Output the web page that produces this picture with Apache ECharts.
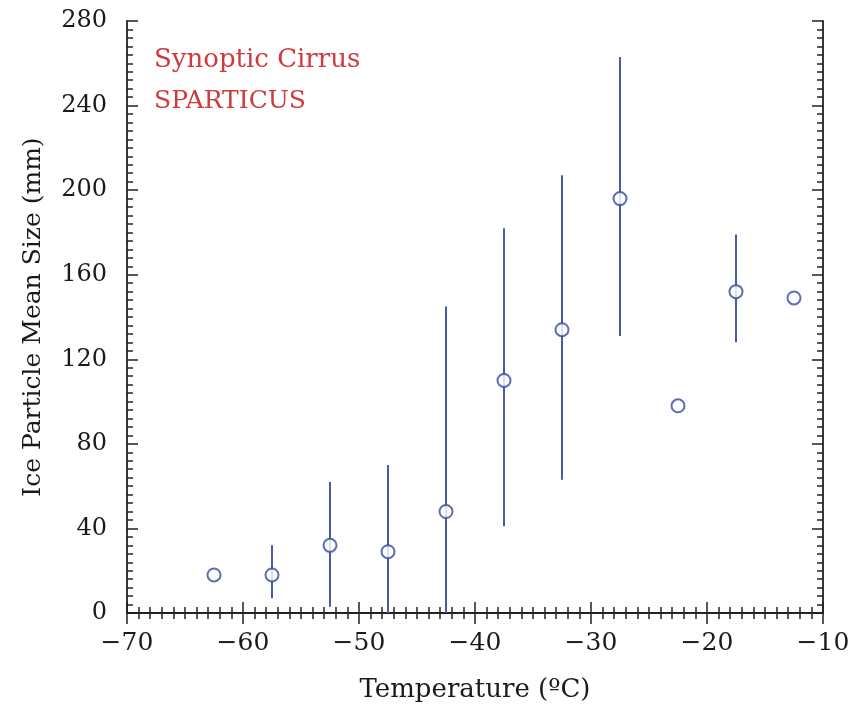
<!DOCTYPE html>
<html><head><meta charset="utf-8">
<script src="https://cdn.jsdelivr.net/npm/echarts@6/dist/echarts.min.js"></script>
<style>html,body{margin:0;padding:0;background:#fff}#c{width:866px;height:708px}</style>
</head><body><div id="c"></div>
<script>
var temps = [-62.5, -57.5, -52.5, -47.5, -42.5, -37.5, -32.5, -27.5, -22.5, -17.5, -12.5];
var meanSize = [18, 18, 32, 29, 48, 110, 134, 196, 98, 152, 149];
var errLow  = [null, 7, 3, 0, 0, 41, 63, 131, null, 128, null];
var errHigh = [null, 32, 62, 70, 145, 182, 207, 263, null, 179, null];
var annotations = ['Synoptic Cirrus', 'SPARTICUS'];

var FONT = '"DejaVu Serif", "Liberation Serif", serif';
var scatterData = temps.map(function (t, i) { return [t, meanSize[i]]; });
var errData = [];
temps.forEach(function (t, i) {
  if (errLow[i] !== null) errData.push([t, errLow[i], errHigh[i]]);
});
function minus(v) { return String(v).replace('-', '\u2212'); }

var axisLine = { show: true, lineStyle: { color: '#222', width: 1.8 } };
var xCommon = {
  type: 'value', min: -70, max: -10, interval: 10,
  axisLine: axisLine,
  axisTick: { show: true, inside: true, length: 11, lineStyle: { color: '#222', width: 1.5 } },
  minorTick: { show: true, splitNumber: 10, length: 6, lineStyle: { color: '#222', width: 1.5 } },
  splitLine: { show: false }
};
var yCommon = {
  type: 'value', min: 0, max: 280, interval: 40,
  axisLine: axisLine,
  axisTick: { show: true, inside: true, length: 11, lineStyle: { color: '#222', width: 1.5 } },
  minorTick: { show: true, splitNumber: 10, length: 6, lineStyle: { color: '#222', width: 1.5 } },
  splitLine: { show: false }
};

var chart = echarts.init(document.getElementById('c'));
chart.setOption({
  backgroundColor: '#fff',
  animation: false,
  grid: { left: 127, right: 43, top: 21, bottom: 94 },
  xAxis: [
    Object.assign({}, xCommon, {
      position: 'bottom',
      name: 'Temperature (ºC)', nameLocation: 'middle', nameGap: 64,
      nameTextStyle: { fontFamily: FONT, fontSize: 26, color: '#1a1a1a' },
      axisLabel: { margin: 18, fontFamily: FONT, fontSize: 25, color: '#1a1a1a', formatter: minus }
    }),
    Object.assign({}, xCommon, { position: 'top', axisLabel: { show: false } })
  ],
  yAxis: [
    Object.assign({}, yCommon, {
      position: 'left',
      name: 'Ice Particle Mean Size (mm)', nameLocation: 'middle', nameGap: 81,
      nameTextStyle: { fontFamily: FONT, fontSize: 25, color: '#1a1a1a' },
      axisLabel: { margin: 20, fontFamily: FONT, fontSize: 24, color: '#1a1a1a' }
    }),
    Object.assign({}, yCommon, { position: 'right', axisLabel: { show: false } })
  ],
  graphic: [
    { type: 'text', left: 154, top: 47, style: { text: annotations[0], fontFamily: FONT, fontSize: 26, fill: '#d03a3c' } },
    { type: 'text', left: 154, top: 89, style: { text: annotations[1], fontFamily: FONT, fontSize: 25, fill: '#d03a3c' } }
  ],
  series: [
    {
      type: 'custom',
      xAxisIndex: 0, yAxisIndex: 0,
      data: errData,
      clip: true,
      renderItem: function (params, api) {
        var p1 = api.coord([api.value(0), api.value(1)]);
        var p2 = api.coord([api.value(0), api.value(2)]);
        return {
          type: 'line',
          shape: { x1: p1[0], y1: p1[1], x2: p2[0], y2: p2[1] },
          style: { stroke: '#4a5aab', lineWidth: 2 }
        };
      },
      encode: { x: 0, y: [1, 2] },
      z: 2
    },
    {
      type: 'scatter',
      xAxisIndex: 0, yAxisIndex: 0,
      data: scatterData,
      symbol: 'circle',
      symbolSize: 13,
      itemStyle: { color: '#ffffff', borderColor: '#35489c', borderWidth: 2 },
      z: 3
    }
  ]
});
</script></body></html>
